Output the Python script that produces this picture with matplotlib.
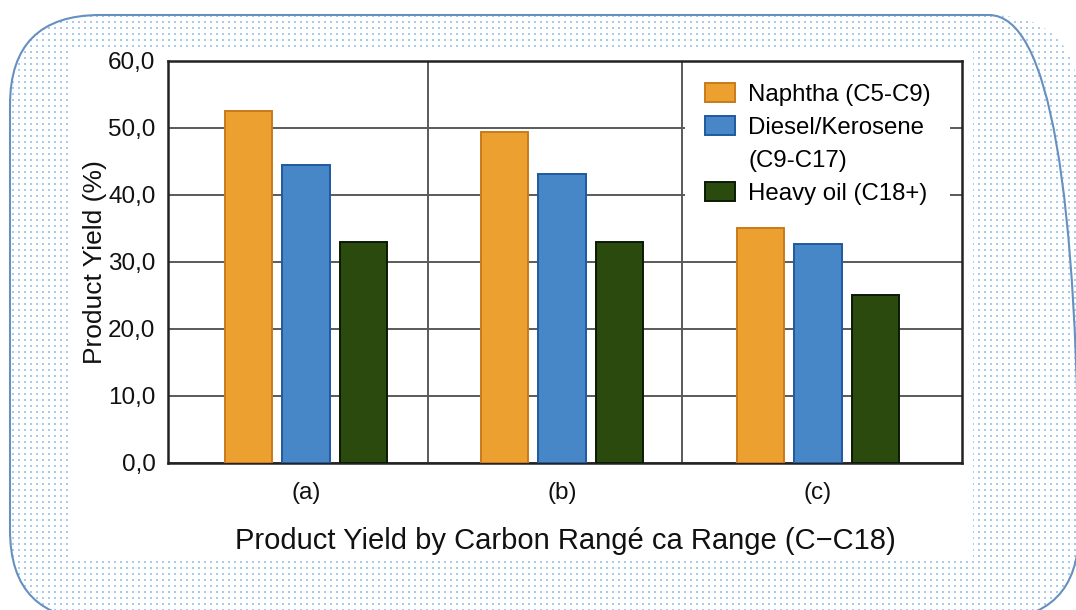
import numpy as np
import matplotlib
matplotlib.use("Agg")
import matplotlib.pyplot as plt
from matplotlib.patches import FancyBboxPatch, Rectangle, Patch
from matplotlib.ticker import FuncFormatter

plt.rcParams['font.family'] = ['Liberation Sans', 'DejaVu Sans']

# ---- data ----
categories = ['(a)', '(b)', '(c)']
series_names = ['Naphtha (C5-C9)', 'Diesel/Kerosene', 'Heavy oil (C18+)']
naphtha = [52.5, 49.3, 35.0]
diesel = [44.5, 43.1, 32.6]
heavy = [33.0, 33.0, 25.0]
y_ticks = [0, 10, 20, 30, 40, 50, 60]
x_title = 'Product Yield by Carbon Rangé ca Range (C\u2212C18)'
y_title = 'Product Yield (%)'

W, H = 1076, 610
fig = plt.figure(figsize=(W / 100, H / 100), dpi=100)
fig.patch.set_facecolor('white')

# ---- decorative background (pixel coords, y upwards) ----
bg = fig.add_axes([0, 0, 1, 1], zorder=-5)
bg.set_xlim(0, W)
bg.set_ylim(0, H)
bg.axis('off')

def up(y_down):
    return H - y_down

box_l, box_t, box_r, box_b = 10, 15, 1079, 620
rr = FancyBboxPatch((box_l, up(box_b)), box_r - box_l, box_b - box_t,
                    boxstyle="round,pad=0,rounding_size=90",
                    facecolor='white', edgecolor='none', zorder=1)
bg.add_patch(rr)
gx, gy = np.meshgrid(np.arange(13, 1085, 6.0), np.arange(-12, 600, 6.0))
dots = bg.scatter(gx.ravel(), gy.ravel(), s=1.1, marker='s', color='#A9CBEE',
                  linewidths=0, zorder=2)
dots.set_clip_path(rr)
bg.add_patch(Rectangle((72, up(560)), 901, 512, facecolor='white', edgecolor='none', zorder=3))
border = FancyBboxPatch((box_l, up(box_b)), box_r - box_l, box_b - box_t,
                        boxstyle="round,pad=0,rounding_size=90",
                        facecolor='none', edgecolor='#6690C0', linewidth=1.5, zorder=4)
bg.add_patch(border)

# ---- main chart ----
ax = fig.add_axes([168 / W, (H - 463) / H, (962 - 168) / W, (463 - 60.7) / H])
ax.set_facecolor('white')

x = np.arange(len(categories))
bw = 0.184
off = 0.223
ax.bar(x - off, naphtha, bw, color='#EBA030', edgecolor='#C97A1C', linewidth=1.4,
       label=series_names[0], zorder=3)
ax.bar(x, diesel, bw, color='#4787C7', edgecolor='#1F5A9E', linewidth=1.4,
       label=series_names[1], zorder=3)
ax.bar(x + off, heavy, bw, color='#2A4A0E', edgecolor='#0B1A05', linewidth=1.4,
       label=series_names[2], zorder=3)

ax.set_xlim(-0.539, 2.5625)
ax.set_ylim(0, 60)
ax.set_yticks(y_ticks)
ax.yaxis.set_major_formatter(FuncFormatter(lambda v, p: f"{v:.1f}".replace('.', ',')))
ax.set_xticks(x)
ax.set_xticklabels(categories)
ax.tick_params(axis='both', length=0, labelsize=17.5, colors='#111111')
ax.tick_params(axis='y', pad=9)
ax.tick_params(axis='x', pad=14)

ax.yaxis.grid(True, color='#5a5a5a', linewidth=1.4, zorder=1)
for xv in (0.477, 1.469):
    ax.axvline(xv, color='#5a5a5a', linewidth=1.4, zorder=1)
ax.set_axisbelow(True)
for s in ax.spines.values():
    s.set_color('#222222')
    s.set_linewidth(1.8)

ax.set_ylabel(y_title, fontsize=19, color='#111111')
ax.yaxis.set_label_coords(-0.077, 0.5)
ax.set_xlabel(x_title, fontsize=21, color='#111111', labelpad=16)

handles, labels = ax.get_legend_handles_labels()
handles.insert(2, Patch(facecolor='none', edgecolor='none'))
labels.insert(2, '(C9-C17)')
leg = ax.legend(handles, labels, loc='upper right', bbox_to_anchor=(0.985, 0.9925),
                borderaxespad=0, fontsize=17.3, handlelength=1.27, handleheight=0.85,
                handletextpad=0.55, borderpad=0.8, labelspacing=0.42,
                frameon=True, fancybox=False, framealpha=1)
leg.get_frame().set_facecolor('white')
leg.get_frame().set_edgecolor('none')
leg.set_zorder(5)

fig.savefig('out.png', dpi=100, facecolor='white')
